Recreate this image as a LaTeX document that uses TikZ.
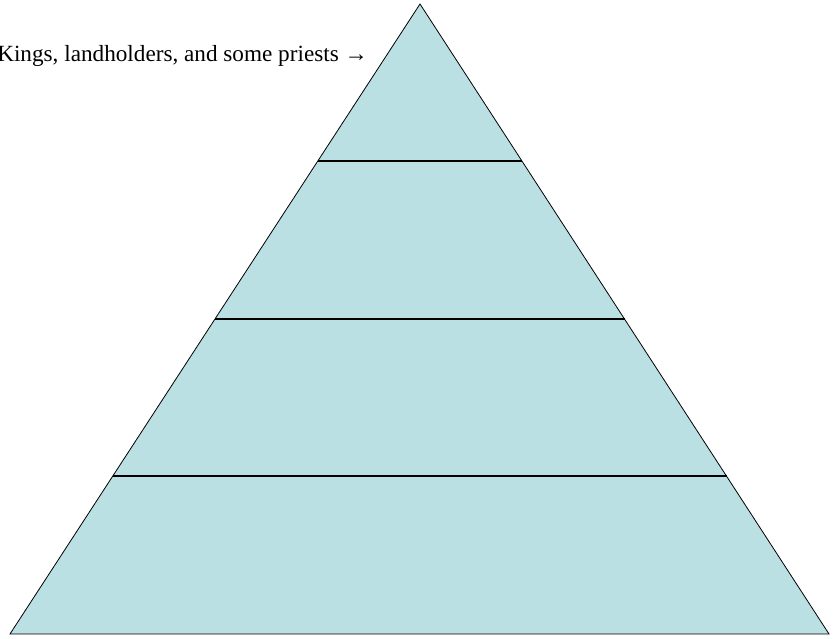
\documentclass[tikz,border=0pt]{standalone}
\usepackage{fontspec}
\setmainfont{Liberation Serif}
\usetikzlibrary{calc}
\definecolor{tierfill}{RGB}{187,224,227}

\begin{document}
\begin{tikzpicture}[
  x=1pt, y=1pt,
  pyramid/.style={draw=black, line width=0.8pt, fill=tierfill, line join=miter},
  tierline/.style={draw=black, line width=2pt},
  caption/.style={font=\fontsize{23.2}{27}\selectfont, inner sep=0pt}
]
\useasboundingbox (0,0) rectangle (839,639);
% ---- the pyramid outline ----
\coordinate (apex) at (420,635);
\coordinate (bl) at (10,5);
\coordinate (br) at (829,5);
\draw[pyramid] (apex) -- (bl) -- (br) -- cycle;
% ---- tier boundaries, equal heights ----
\foreach \f/\n in {0.25/1,0.5/2,0.75/3}{
  \coordinate (L\n) at ($(apex)!\f!(bl)$);
  \coordinate (R\n) at ($(apex)!\f!(br)$);
  \draw[tierline] (L\n) -- (R\n);
}
% ---- label pointing at the top tier ----
\node[caption, anchor=base east] (kings) at (368,577)
  {Kings, landholders, and some priests {\bfseries →}};
\end{tikzpicture}
\end{document}
